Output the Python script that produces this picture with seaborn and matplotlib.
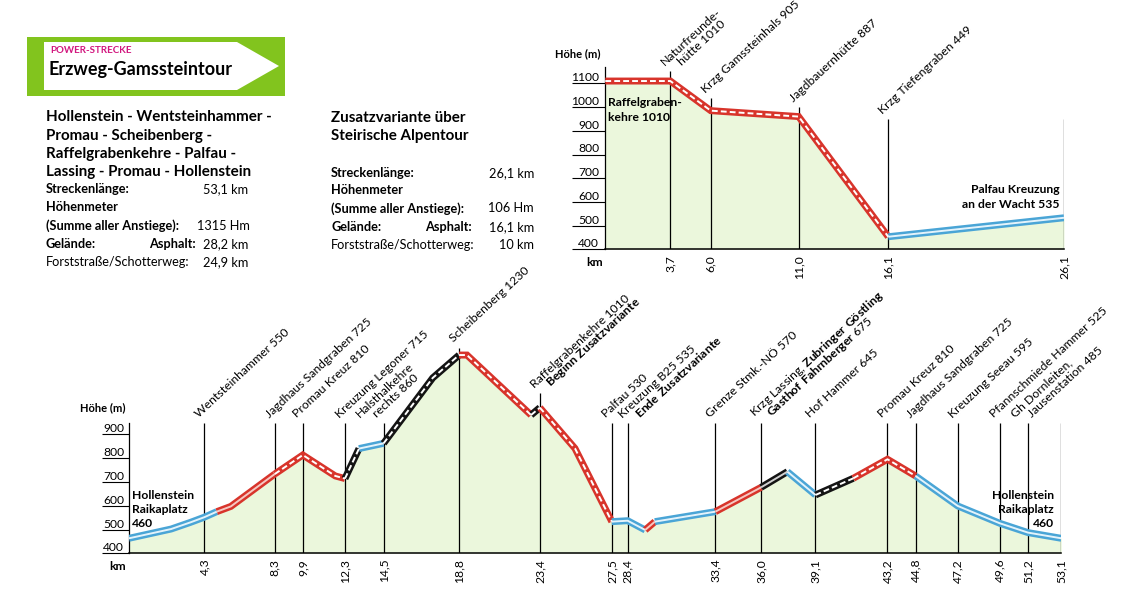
import numpy as np
import pandas as pd
import seaborn as sns
import matplotlib.pyplot as plt
from matplotlib.patches import Rectangle, Polygon

sns.set_theme(style="white")
plt.rcParams["font.family"] = ["Lato", "DejaVu Sans"]
plt.rcParams["mathtext.fontset"] = "custom"
plt.rcParams["mathtext.rm"] = "Lato"
plt.rcParams["mathtext.bf"] = "Lato:bold"

# --- main tour profile (km, height, surface of the segment that starts there)
main_km = [0.0, 2.4, 3.5, 4.3, 5.0, 5.8, 8.3, 9.9, 11.75, 12.3, 13.1, 14.5, 17.3,
           18.8, 19.25, 22.9, 23.4, 25.4, 27.5, 28.4, 29.4, 29.95, 33.4, 36.0,
           37.5, 39.1, 41.25, 43.2, 44.8, 47.2, 49.6, 51.2, 53.1]
main_m = [463, 502, 530, 552, 575, 597, 733, 813, 725, 714, 840, 862, 1137,
          1233, 1233, 981, 1012, 841, 533, 537, 498, 533, 575, 677,
          743, 645, 715, 795, 725, 599, 526, 487, 463]
main_kind = ["blue", "blue", "blue", "blue", "redsolid", "redsolid", "red", "red", "red",
             "black", "blue", "black", "black", "red", "red", "black", "red", "red",
             "blue", "blue", "redsolid", "blue", "redsolid", "blacksolid", "blue",
             "black", "red", "red", "blue", "blue", "blue", "blue", "blue"]

main_stops = [4.3, 8.3, 9.9, 12.3, 14.5, 18.8, 23.4, 27.5, 28.4, 33.4, 36.0, 39.1,
              43.2, 44.8, 47.2, 49.6, 51.2, 53.1]
main_names = [
    "Wentsteinhammer 550",
    "Jagdhaus Sandgraben 725",
    "Promau Kreuz 810",
    "Kreuzung Legoner 715",
    "Halsthalkehre\nrechts 860",
    "Scheibenberg 1230",
    "Raffelgrabenkehre 1010\n$\\mathbf{Beginn\\ Zusatzvariante}$",
    "Palfau 530",
    "Kreuzung B25 535\n$\\mathbf{Ende\\ Zusatzvariante}$",
    "Grenze Stmk.-NÖ 570",
    "Krzg Lassing, $\\mathbf{Zubringer\\ Göstling}$\n$\\mathbf{Gasthof\\ Fahrnberger}$ 675",
    "Hof Hammer 645",
    "Promau Kreuz 810",
    "Jagdhaus Sandgraben 725",
    "Kreuzung Seeau 595",
    "Pfannschmiede Hammer 525",
    "Gh Dornleiten,\nJausenstation 485",
    "",
]
main_yticks = [400, 500, 600, 700, 800, 900]

# --- variant profile
var_km = [0.0, 3.7, 6.0, 11.0, 16.1, 26.1]
var_m = [1110, 1110, 985, 960, 453, 533]
var_kind = ["red", "red", "red", "red", "blue", "blue"]
var_stops = [3.7, 6.0, 11.0, 16.1, 26.1]
var_names = ["Naturfreunde-\nhütte 1010", "Krzg Gamssteinhals 905",
             "Jagdbauernhütte 887", "Krzg Tiefengraben 449", ""]
var_yticks = [400, 500, 600, 700, 800, 900, 1000, 1100]

# layout: height where the marker lines end, sideways shift of labels (px)
main_line_top = [947, 947, 947, 947, 947, 1263, 1073, 947, 947, 947, 947, 947,
                 947, 947, 947, 947, 947, 947]
main_shift = [0, 0, 0, 0, -18, 0, 0, 0, 0, 0, 0, 0, 0, 0, 0, 0, -8, 0]
var_line_top = [1152, 1037, 999, 948, 950]
var_shift = [0, 0, 0, 0, 0]

FILL = "#ebf7dc"
STYLES = {
    "blue": ("#4aa5d6", "#e4f3fb", False),
    "red": ("#d8342b", "#ffffff", True),
    "redsolid": ("#d8342b", "#f6c8c2", False),
    "black": ("#141414", "#ffffff", True),
    "blacksolid": ("#141414", "#d0d0d0", False),
}

W, H = 1124, 593
fig = plt.figure(figsize=(W / 100, H / 100), dpi=100)
ov = fig.add_axes([0, 0, 1, 1], zorder=3)
ov.set_xlim(0, W)
ov.set_ylim(H, 0)
ov.axis("off")


def put(x, y, s, size=9.2, weight="normal", ha="left", color="black"):
    ov.text(x, y, s, fontsize=size, fontweight=weight, ha=ha, va="center", color=color)


def draw_track(ax, km, m, kind):
    df = pd.DataFrame({"km": km, "m": m})
    ax.fill_between(df["km"], 400, df["m"], color=FILL, lw=0, zorder=1)
    start = 0
    for i in range(1, len(km)):
        if i == len(km) - 1 or kind[i] != kind[start]:
            seg = df.iloc[start:i + 1]
            band, inner, dashed = STYLES[kind[start]]
            sns.lineplot(data=seg, x="km", y="m", ax=ax, color=band, lw=5,
                         sort=False, estimator=None, solid_capstyle="butt",
                         solid_joinstyle="miter", zorder=3)
            sns.lineplot(data=seg, x="km", y="m", ax=ax, color=inner, lw=1.4,
                         sort=False, estimator=None,
                         linestyle=(0, (3, 1.6)) if dashed else "-",
                         solid_capstyle="butt", zorder=4)
            start = i


def setup(ax, km_max, ytop, yticks, stops, names, tops, shifts, spine_top, ticklen, tickpad):
    ax.set_facecolor("none")
    ax.set_xlim(0, km_max)
    ax.set_ylim(400, ytop)
    ax.set_xlabel("")
    ax.set_ylabel("")
    for s in ["top", "right"]:
        ax.spines[s].set_visible(False)
    ax.spines["bottom"].set_color("black")
    ax.spines["bottom"].set_linewidth(1.1)
    ax.spines["left"].set_color("black")
    ax.spines["left"].set_linewidth(0.9)
    ax.spines["left"].set_bounds(400, spine_top)
    ax.vlines(stops, 400, tops, color="black", lw=0.9, zorder=2)
    ax.set_xticks(stops)
    ax.set_xticklabels([f"{v:.1f}".replace(".", ",") for v in stops])
    ax.tick_params(axis="x", bottom=False, length=0, pad=4, labelsize=8.7,
                   labelrotation=90, colors="black")
    ax.set_yticks(yticks)
    ax.set_yticklabels([str(v) for v in yticks])
    ax.tick_params(axis="y", left=True, direction="out", length=ticklen, width=0.8,
                   color="black", pad=tickpad, labelsize=8.7, labelcolor="black")
    for lab in ax.get_yticklabels():
        lab.set_va("bottom")
    for x, name, top, sh in zip(stops, names, tops, shifts):
        if not name:
            continue
        for j, line in enumerate(name.split("\n")):
            dx = (-4 + sh + 17 * j) * 0.72
            ax.annotate(line, xy=(x, top), xytext=(dx, 2.5), textcoords="offset points",
                        rotation=43, ha="left", va="bottom", rotation_mode="anchor",
                        fontsize=8.8, color="black", annotation_clip=False)


# --- header sign
ov.add_patch(Rectangle((27, 37), 258, 59, color="#82c41e", lw=0))
ov.add_patch(Polygon([(44, 42), (237, 42), (279, 66), (237, 90), (44, 90)],
                     closed=True, color="white", lw=0))
put(50, 50.5, "POWER-STRECKE", size=7, weight="bold", color="#d2177f")
put(49, 70, "Erzweg-Gamssteintour", size=13, weight="bold")

# --- left text block
for y, s in zip([117.3, 135.7, 154, 171.7],
                ["Hollenstein - Wentsteinhammer -", "Promau - Scheibenberg -",
                 "Raffelgrabenkehre - Palfau -", "Lassing - Promau - Hollenstein"]):
    put(46, y, s, size=10.9, weight="bold")
put(46, 189.3, "Streckenlänge:", weight="bold")
put(248, 189.3, "53,1 km", ha="right")
put(46, 207.3, "Höhenmeter", weight="bold")
put(46, 226, "(Summe aller Anstiege):", weight="bold")
put(250, 226, "1315 Hm", ha="right")
put(46, 244, "Gelände:", weight="bold")
put(196, 244, "Asphalt:", weight="bold", ha="right")
put(248, 244, "28,2 km", ha="right")
put(46, 261.7, "Forststraße/Schotterweg:")
put(248, 261.7, "24,9 km", ha="right")

# --- middle text block
put(331, 118.3, "Zusatzvariante über", size=10.9, weight="bold")
put(331, 135.7, "Steirische Alpentour", size=10.9, weight="bold")
put(331, 172.7, "Streckenlänge:", weight="bold")
put(534, 172.7, "26,1 km", ha="right")
put(331, 190, "Höhenmeter", weight="bold")
put(331, 208.3, "(Summe aller Anstiege):", weight="bold")
put(534, 208.3, "106 Hm", ha="right")
put(331, 226.7, "Gelände:", weight="bold")
put(472, 226.7, "Asphalt:", weight="bold", ha="right")
put(534, 226.7, "16,1 km", ha="right")
put(331, 245, "Forststraße/Schotterweg:")
put(534, 245, "10 km", ha="right")

# --- variant chart (top right)
ax_v = fig.add_axes([605.3 / W, (H - 249.3) / H, (1064 - 605.3) / W, 8 * 23.7 / H], zorder=1)
draw_track(ax_v, var_km, var_m, var_kind)
setup(ax_v, 26.1, 1200, var_yticks, var_stops, var_names, var_line_top, var_shift,
      1170, 23.8, -19.4)
put(555, 54, "Höhe (m)", size=8, weight="bold")
put(595, 263, "km", size=8.7, weight="bold", ha="center")
put(608, 102.3, "Raffelgraben-", size=8.7, weight="bold")
put(608, 117.7, "kehre 1010", size=8.7, weight="bold")
put(1060, 189.3, "Palfau Kreuzung", size=8.7, weight="bold", ha="right")
put(1060, 204, "an der Wacht 535", size=8.7, weight="bold", ha="right")

# --- main chart (bottom)
ax_m = fig.add_axes([129 / W, (H - 553.3) / H, (1061.3 - 129) / W, 9 * 23.8 / H], zorder=1)
draw_track(ax_m, main_km, main_m, main_kind)
setup(ax_m, 53.1, 1300, main_yticks, main_stops, main_names, main_line_top, main_shift,
      947, 19.4, -15.8)
put(80, 408, "Höhe (m)", size=8, weight="bold")
put(118, 567, "km", size=8.7, weight="bold", ha="center")
for y, s in zip([495.7, 509.3, 523.3], ["Hollenstein", "Raikaplatz", "460"]):
    put(132, y, s, size=8.7, weight="bold")
    put(1054, y, s, size=8.7, weight="bold", ha="right")

fig.savefig("out.png", dpi=100)
